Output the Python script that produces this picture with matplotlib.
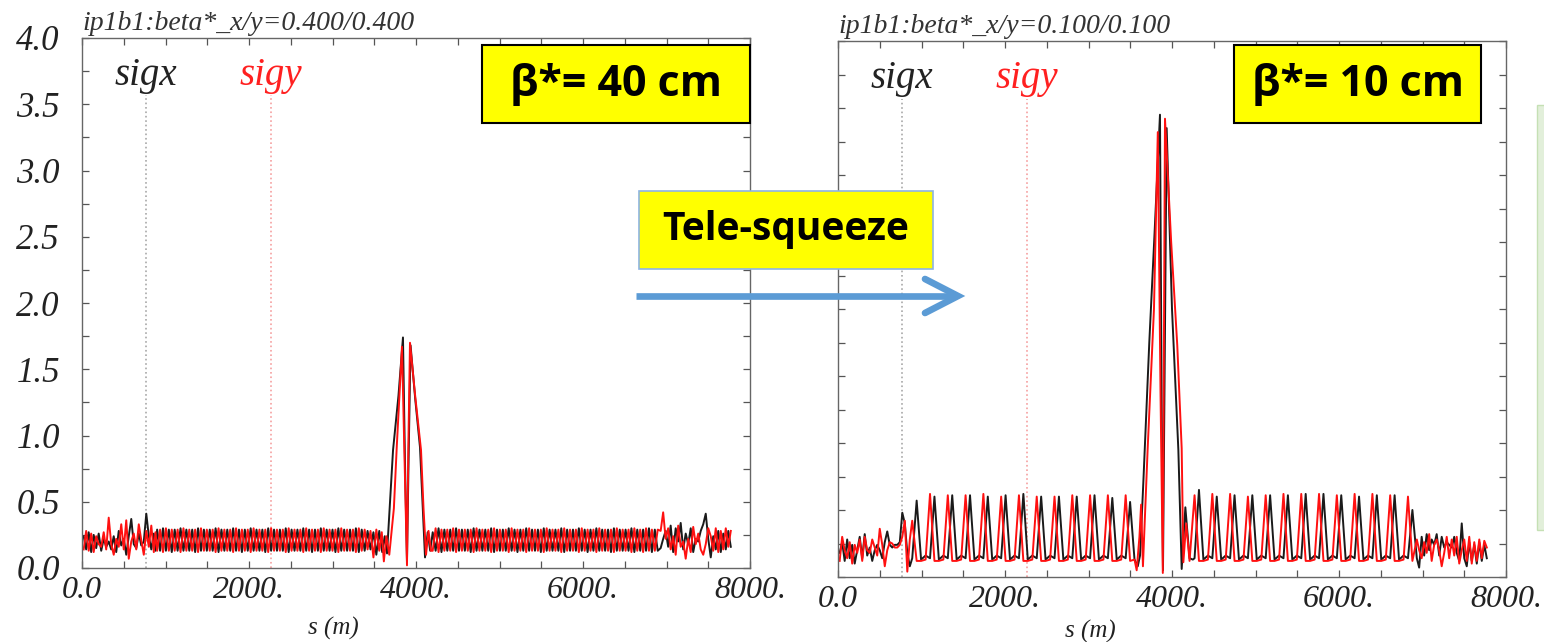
import matplotlib
matplotlib.use("Agg")
import matplotlib.pyplot as plt
from matplotlib.patches import Rectangle
from matplotlib.lines import Line2D

# ---------------- data: beta* = 40 cm (left panel) ----------------
s40_edge1 = [20, 50, 80, 110, 140, 170, 200, 230, 260, 290, 320, 350, 380, 410, 440,
             470, 500, 530, 560, 590, 620, 650, 680, 710, 740, 770, 800, 830, 860, 880]
sigx40_edge1 = [0.24, 0.14, 0.27, 0.12, 0.25, 0.15, 0.26, 0.13, 0.22, 0.16, 0.20, 0.14, 0.24, 0.12, 0.28,
                0.17, 0.22, 0.10, 0.24, 0.37, 0.18, 0.15, 0.26, 0.17, 0.20, 0.41, 0.24, 0.14, 0.26, 0.13]
sigy40_edge1 = [0.14, 0.28, 0.13, 0.26, 0.12, 0.24, 0.18, 0.16, 0.27, 0.14, 0.38, 0.18, 0.10, 0.22, 0.16,
                0.33, 0.14, 0.36, 0.07, 0.20, 0.26, 0.14, 0.33, 0.21, 0.10, 0.28, 0.16, 0.32, 0.12, 0.27]

s40_arc1 = [900, 935, 970, 1005, 1040, 1075, 1110, 1145, 1180, 1215,
            1250, 1285, 1320, 1355, 1390, 1425, 1460, 1495, 1530, 1565,
            1600, 1635, 1670, 1705, 1740, 1775, 1810, 1845, 1880, 1915,
            1950, 1985, 2020, 2055, 2090, 2125, 2160, 2195, 2230, 2265,
            2300, 2335, 2370, 2405, 2440, 2475, 2510, 2545, 2580, 2615,
            2650, 2685, 2720, 2755, 2790, 2825, 2860, 2895, 2930, 2965,
            3000, 3035, 3070, 3105, 3140, 3175, 3210, 3245, 3280, 3315,
            3350, 3385, 3420, 3455, 3490, 3525]
sigx40_arc1 = [0.29, 0.13, 0.30, 0.13, 0.29, 0.12, 0.29, 0.13, 0.30, 0.13,
               0.29, 0.13, 0.29, 0.12, 0.30, 0.13, 0.29, 0.13, 0.29, 0.13,
               0.30, 0.12, 0.29, 0.13, 0.29, 0.13, 0.30, 0.13, 0.29, 0.12,
               0.29, 0.13, 0.30, 0.13, 0.29, 0.13, 0.29, 0.12, 0.30, 0.13,
               0.29, 0.13, 0.29, 0.13, 0.30, 0.12, 0.29, 0.13, 0.29, 0.13,
               0.30, 0.13, 0.29, 0.12, 0.29, 0.13, 0.30, 0.13, 0.29, 0.13,
               0.29, 0.12, 0.30, 0.13, 0.29, 0.13, 0.29, 0.13, 0.30, 0.12,
               0.29, 0.13, 0.28, 0.14, 0.27, 0.10]
sigy40_arc1 = [0.13, 0.29, 0.12, 0.30, 0.13, 0.29, 0.13, 0.29, 0.12, 0.30,
               0.13, 0.29, 0.13, 0.29, 0.12, 0.30, 0.13, 0.29, 0.13, 0.29,
               0.12, 0.30, 0.13, 0.29, 0.13, 0.29, 0.12, 0.30, 0.13, 0.29,
               0.13, 0.29, 0.12, 0.30, 0.13, 0.29, 0.13, 0.29, 0.12, 0.30,
               0.13, 0.29, 0.13, 0.29, 0.12, 0.30, 0.13, 0.29, 0.13, 0.29,
               0.12, 0.30, 0.13, 0.29, 0.13, 0.29, 0.12, 0.30, 0.13, 0.29,
               0.13, 0.29, 0.12, 0.30, 0.13, 0.29, 0.13, 0.29, 0.12, 0.30,
               0.13, 0.29, 0.14, 0.28, 0.08, 0.29]

# interaction region around IP1
s40_irx = [3560, 3595, 3625, 3653, 3725, 3790, 3844, 3868, 3892, 3912, 3935, 3990, 4048, 4108, 4140, 4170]
sigx40_ir = [0.28, 0.12, 0.24, 0.11, 0.89, 1.30, 1.74, 0.80, 0.05, 0.85, 1.68, 1.28, 0.91, 0.08, 0.27, 0.13]
s40_iry = [3560, 3590, 3615, 3645, 3680, 3735, 3770, 3832, 3862, 3892, 3908, 3928, 3990, 4060, 4090, 4120, 4150, 4180]
sigy40_ir = [0.13, 0.27, 0.05, 0.24, 0.10, 0.45, 0.92, 1.67, 0.85, 0.02, 0.90, 1.70, 1.30, 0.89, 0.45, 0.10, 0.28, 0.13]

s40_arc2 = [4200, 4235, 4270, 4305, 4340, 4375, 4410, 4445, 4480, 4515,
            4550, 4585, 4620, 4655, 4690, 4725, 4760, 4795, 4830, 4865,
            4900, 4935, 4970, 5005, 5040, 5075, 5110, 5145, 5180, 5215,
            5250, 5285, 5320, 5355, 5390, 5425, 5460, 5495, 5530, 5565,
            5600, 5635, 5670, 5705, 5740, 5775, 5810, 5845, 5880, 5915,
            5950, 5985, 6020, 6055, 6090, 6125, 6160, 6195, 6230, 6265,
            6300, 6335, 6370, 6405, 6440, 6475, 6510, 6545, 6580, 6615,
            6650, 6685, 6720, 6755, 6790, 6825, 6860, 6895]
sigx40_arc2 = [0.27, 0.13, 0.30, 0.12, 0.29, 0.13, 0.29, 0.13, 0.30, 0.13,
               0.29, 0.13, 0.29, 0.12, 0.30, 0.13, 0.29, 0.13, 0.29, 0.13,
               0.30, 0.12, 0.29, 0.13, 0.29, 0.13, 0.30, 0.13, 0.29, 0.12,
               0.29, 0.13, 0.30, 0.13, 0.29, 0.13, 0.29, 0.12, 0.30, 0.13,
               0.29, 0.13, 0.29, 0.13, 0.30, 0.12, 0.29, 0.13, 0.29, 0.13,
               0.30, 0.13, 0.29, 0.12, 0.29, 0.13, 0.30, 0.13, 0.29, 0.13,
               0.29, 0.12, 0.30, 0.13, 0.29, 0.13, 0.29, 0.13, 0.30, 0.12,
               0.29, 0.13, 0.29, 0.13, 0.30, 0.12, 0.29, 0.13]
sigy40_arc2 = [0.13, 0.30, 0.12, 0.29, 0.13, 0.29, 0.13, 0.30, 0.12, 0.29,
               0.13, 0.29, 0.13, 0.29, 0.12, 0.30, 0.13, 0.29, 0.13, 0.29,
               0.12, 0.30, 0.13, 0.29, 0.13, 0.29, 0.12, 0.30, 0.13, 0.29,
               0.13, 0.29, 0.12, 0.30, 0.13, 0.29, 0.13, 0.29, 0.12, 0.30,
               0.13, 0.29, 0.13, 0.29, 0.12, 0.30, 0.13, 0.29, 0.13, 0.29,
               0.12, 0.30, 0.13, 0.29, 0.13, 0.29, 0.12, 0.30, 0.13, 0.29,
               0.13, 0.29, 0.12, 0.30, 0.13, 0.29, 0.13, 0.29, 0.12, 0.30,
               0.13, 0.29, 0.12, 0.30, 0.13, 0.29, 0.13, 0.29]

s40_edge2 = [6930, 6960, 6990, 7020, 7050, 7080, 7110, 7140, 7170, 7200, 7230, 7260, 7290, 7320, 7350,
             7380, 7410, 7440, 7470, 7500, 7530, 7560, 7590, 7620, 7650, 7680, 7710, 7740, 7770]
sigx40_edge2 = [0.15, 0.22, 0.28, 0.16, 0.32, 0.12, 0.30, 0.20, 0.34, 0.14, 0.26, 0.18, 0.30, 0.12, 0.22,
                0.20, 0.28, 0.33, 0.41, 0.22, 0.08, 0.24, 0.14, 0.28, 0.12, 0.26, 0.14, 0.28, 0.16]
sigy40_edge2 = [0.28, 0.42, 0.22, 0.30, 0.14, 0.24, 0.10, 0.32, 0.16, 0.20, 0.07, 0.22, 0.12, 0.31, 0.18,
                0.26, 0.14, 0.10, 0.18, 0.30, 0.24, 0.13, 0.30, 0.12, 0.28, 0.14, 0.30, 0.16, 0.28]

# ---------------- data: beta* = 10 cm (right panel) ----------------
s10_edge1 = [20, 50, 80, 110, 140, 170, 200, 230, 260, 290, 320, 350, 380, 410, 440,
             470, 500, 530, 560, 590, 620, 650, 680, 710, 740, 770, 800, 830, 860]
sigx10_edge1 = [0.18, 0.26, 0.12, 0.28, 0.14, 0.24, 0.10, 0.20, 0.30, 0.14, 0.32, 0.16, 0.22, 0.12, 0.20,
                0.24, 0.20, 0.14, 0.26, 0.34, 0.24, 0.22, 0.24, 0.24, 0.26, 0.48, 0.40, 0.18, 0.08]
sigy10_edge1 = [0.12, 0.30, 0.20, 0.14, 0.26, 0.10, 0.24, 0.18, 0.28, 0.12, 0.30, 0.20, 0.18, 0.28, 0.22,
                0.16, 0.36, 0.24, 0.08, 0.20, 0.26, 0.25, 0.22, 0.22, 0.24, 0.30, 0.42, 0.04, 0.28]

s10_arc1 = [889, 942, 995, 1049, 1102, 1155, 1208, 1262, 1315, 1368,
            1421, 1475, 1528, 1581, 1634, 1688, 1741, 1794, 1847, 1901,
            1954, 2007, 2060, 2114, 2167, 2220, 2273, 2327, 2380, 2433,
            2486, 2540, 2593, 2646, 2699, 2753, 2806, 2859, 2912, 2966,
            3019, 3072, 3125, 3179, 3232, 3285, 3338, 3392, 3445, 3498]
sigx10_arc1 = [0.14, 0.57, 0.13, 0.16, 0.14, 0.60, 0.13, 0.16, 0.14, 0.61,
               0.13, 0.16, 0.14, 0.61, 0.13, 0.16, 0.14, 0.60, 0.13, 0.16,
               0.14, 0.61, 0.13, 0.16, 0.14, 0.62, 0.13, 0.16, 0.14, 0.60,
               0.13, 0.16, 0.14, 0.60, 0.13, 0.16, 0.14, 0.60, 0.13, 0.16,
               0.14, 0.61, 0.13, 0.16, 0.14, 0.59, 0.13, 0.16, 0.14, 0.56]
sigy10_arc1 = [0.42, 0.12, 0.12, 0.13, 0.62, 0.12, 0.12, 0.13, 0.61, 0.12,
               0.12, 0.13, 0.61, 0.12, 0.12, 0.13, 0.62, 0.12, 0.12, 0.13,
               0.60, 0.12, 0.12, 0.13, 0.61, 0.12, 0.12, 0.13, 0.60, 0.12,
               0.12, 0.13, 0.60, 0.12, 0.12, 0.13, 0.61, 0.12, 0.12, 0.13,
               0.61, 0.12, 0.12, 0.13, 0.61, 0.12, 0.12, 0.13, 0.61, 0.12]

s10_irx = [3551, 3590, 3617, 3657, 3728, 3790, 3856, 3876, 3892, 3910, 3936, 4000, 4076, 4116, 4160, 4210, 4250]
sigx10_ir = [0.13, 0.08, 0.16, 0.71, 1.75, 2.55, 3.45, 1.30, 0.05, 1.40, 3.35, 2.00, 0.95, 0.06, 0.52, 0.14, 0.13]
s10_iry = [3551, 3577, 3610, 3630, 3652, 3708, 3784, 3830, 3862, 3890, 3916, 3990, 4063, 4116, 4136, 4170, 4210]
sigy10_ir = [0.13, 0.05, 0.30, 0.54, 0.08, 0.95, 2.00, 3.32, 1.40, 0.03, 3.42, 2.50, 1.73, 0.96, 0.11, 0.40, 0.12]

s10_arc2 = [4270, 4323, 4376, 4430, 4483, 4536, 4589, 4643, 4696, 4749,
            4802, 4856, 4909, 4962, 5015, 5069, 5122, 5175, 5228, 5282,
            5335, 5388, 5441, 5495, 5548, 5601, 5654, 5708, 5761, 5814,
            5867, 5921, 5974, 6027, 6080, 6134, 6187, 6240, 6293, 6347,
            6400, 6453, 6506, 6560, 6613, 6666, 6719, 6773, 6826, 6879]
sigx10_arc2 = [0.14, 0.65, 0.13, 0.16, 0.14, 0.60, 0.13, 0.16, 0.14, 0.61,
               0.13, 0.16, 0.14, 0.61, 0.13, 0.16, 0.14, 0.61, 0.13, 0.16,
               0.14, 0.61, 0.13, 0.16, 0.14, 0.62, 0.13, 0.16, 0.14, 0.62,
               0.13, 0.16, 0.14, 0.61, 0.13, 0.16, 0.14, 0.60, 0.13, 0.16,
               0.14, 0.61, 0.13, 0.16, 0.14, 0.61, 0.13, 0.16, 0.14, 0.50]
sigy10_arc2 = [0.61, 0.12, 0.12, 0.13, 0.62, 0.12, 0.12, 0.13, 0.62, 0.12,
               0.12, 0.13, 0.60, 0.12, 0.12, 0.13, 0.61, 0.12, 0.12, 0.13,
               0.62, 0.12, 0.12, 0.13, 0.62, 0.12, 0.12, 0.13, 0.62, 0.12,
               0.12, 0.13, 0.61, 0.12, 0.12, 0.13, 0.62, 0.12, 0.12, 0.13,
               0.62, 0.12, 0.12, 0.13, 0.61, 0.12, 0.12, 0.13, 0.60, 0.12]

s10_edge2 = [6932, 6960, 6990, 7020, 7050, 7080, 7110, 7140, 7170, 7200, 7230, 7260, 7290, 7320, 7350,
             7380, 7410, 7440, 7470, 7500, 7530, 7560, 7590, 7620, 7650, 7680, 7710, 7740, 7770]
sigx10_edge2 = [0.14, 0.07, 0.30, 0.16, 0.32, 0.20, 0.28, 0.24, 0.32, 0.16, 0.30, 0.22, 0.26, 0.24, 0.22,
                0.30, 0.18, 0.12, 0.40, 0.14, 0.08, 0.26, 0.12, 0.24, 0.10, 0.26, 0.12, 0.24, 0.14]
sigy10_edge2 = [0.28, 0.20, 0.14, 0.26, 0.18, 0.32, 0.12, 0.24, 0.28, 0.20, 0.08, 0.18, 0.30, 0.14, 0.28,
                0.16, 0.30, 0.10, 0.20, 0.28, 0.12, 0.30, 0.10, 0.26, 0.12, 0.28, 0.14, 0.27, 0.22]

# marker positions of the sigx / sigy labels
s_label_sigx = 765
s_label_sigy = 2260

x_ticklabels = ["0.0", "2000.", "4000.", "6000.", "8000."]
y_ticklabels = ["0.0", "0.5", "1.0", "1.5", "2.0", "2.5", "3.0", "3.5", "4.0"]

W, H = 1544, 642
SERIF = "Liberation Serif"
SANS = ["Open Sans", "DejaVu Sans"]


def fx(x):
    return x / W


def fy(y):
    return 1 - y / H


def setup_axes(ax, title, show_ylabels):
    ax.set_xlim(0, 8000)
    ax.set_ylim(0, 4)
    ax.set_xticks([0, 2000, 4000, 6000, 8000])
    ax.set_xticks([500 * i for i in range(17)], minor=True)
    ax.set_yticks([0.5 * i for i in range(9)])
    ax.set_yticks([0.25 * i for i in range(17)], minor=True)
    ax.set_xticklabels(x_ticklabels, fontfamily=SERIF, fontstyle="italic", fontsize=23, color="#222222")
    if show_ylabels:
        ax.set_yticklabels(y_ticklabels, fontfamily=SERIF, fontstyle="italic", fontsize=25, color="#222222")
    else:
        ax.set_yticklabels([])
    ax.tick_params(which="both", direction="in", length=5, width=0.9, color="#555555",
                   top=True, right=True)
    ax.tick_params(axis="x", pad=6)
    ax.tick_params(axis="y", pad=16)
    for sp in ax.spines.values():
        sp.set_color("#666666")
        sp.set_linewidth(1.0)
    ax.text(0, 1.004, title, transform=ax.transAxes, ha="left", va="bottom",
            fontfamily=SERIF, fontstyle="italic", fontsize=20, color="#333333")
    # labels with their vertical marker lines
    ax.text(s_label_sigx, 3.72, "sigx", ha="center", va="center", fontfamily=SERIF,
            fontstyle="italic", fontsize=28, color="#222222")
    ax.text(s_label_sigy, 3.72, "sigy", ha="center", va="center", fontfamily=SERIF,
            fontstyle="italic", fontsize=28, color="#ff2020")
    ax.plot([s_label_sigx, s_label_sigx], [0, 3.57], ls=":", lw=1.2, color="#a8a8a8")
    ax.plot([s_label_sigy, s_label_sigy], [0, 3.57], ls=":", lw=1.2, color="#f5a0a0")


fig = plt.figure(figsize=(W / 100, H / 100), dpi=100)

ax1 = fig.add_axes([fx(82), fy(568), fx(750) - fx(82), fy(38) - fy(568)])
ax2 = fig.add_axes([fx(838), fy(577), fx(1506) - fx(838), fy(41) - fy(577)])

setup_axes(ax1, "ip1b1:beta*_x/y=0.400/0.400", True)
setup_axes(ax2, "ip1b1:beta*_x/y=0.100/0.100", False)

sx40 = s40_edge1 + s40_arc1 + s40_irx + s40_arc2 + s40_edge2
vx40 = sigx40_edge1 + sigx40_arc1 + sigx40_ir + sigx40_arc2 + sigx40_edge2
sy40 = s40_edge1 + s40_arc1 + s40_iry + s40_arc2 + s40_edge2
vy40 = sigy40_edge1 + sigy40_arc1 + sigy40_ir + sigy40_arc2 + sigy40_edge2
ax1.plot(sx40, vx40, color="#1a1a1a", lw=1.4)
ax1.plot(sy40, vy40, color="#ff1010", lw=1.4)

sx10 = s10_edge1 + s10_arc1 + s10_irx + s10_arc2 + s10_edge2
vx10 = sigx10_edge1 + sigx10_arc1 + sigx10_ir + sigx10_arc2 + sigx10_edge2
sy10 = s10_edge1 + s10_arc1 + s10_iry + s10_arc2 + s10_edge2
vy10 = sigy10_edge1 + sigy10_arc1 + sigy10_ir + sigy10_arc2 + sigy10_edge2
ax2.plot(sx10, vx10, color="#1a1a1a", lw=1.4)
ax2.plot(sy10, vy10, color="#ff1010", lw=1.4)

fig.text(fx(333), fy(628), "s (m)", ha="center", va="center", fontfamily=SERIF,
         fontstyle="italic", fontsize=18, color="#222222")
fig.text(fx(1090), fy(631), "s (m)", ha="center", va="center", fontfamily=SERIF,
         fontstyle="italic", fontsize=18, color="#222222")


def yellow_box(x0, y0, x1, y1, text, edge, lw, size):
    fig.patches.append(Rectangle((fx(x0), fy(y1)), fx(x1) - fx(x0), fy(y0) - fy(y1),
                                 transform=fig.transFigure, facecolor="#ffff00",
                                 edgecolor=edge, linewidth=lw, zorder=5))
    fig.text(fx((x0 + x1) / 2), fy((y0 + y1) / 2), text, ha="center", va="center",
             fontfamily=SANS, fontweight="bold", fontsize=size, color="black", zorder=6)


yellow_box(482, 45, 750, 123, "β*= 40 cm", "black", 1.5, 31)
yellow_box(1234, 45, 1481, 123, "β*= 10 cm", "black", 1.5, 31)
yellow_box(639, 191, 933, 269, "Tele-squeeze", "#8db4e2", 1.2, 28)

# blue arrow
arrow_color = "#5b9bd5"
fig.add_artist(Line2D([fx(636), fx(955)], [fy(296), fy(296)], transform=fig.transFigure,
                      color=arrow_color, lw=4.8, solid_capstyle="butt", zorder=5))
fig.add_artist(Line2D([fx(925), fx(958), fx(925)], [fy(279), fy(296), fy(313)],
                      transform=fig.transFigure, color=arrow_color, lw=4.8,
                      solid_capstyle="round", solid_joinstyle="miter", zorder=5))

# partially visible green panel on the right edge
fig.patches.append(Rectangle((fx(1537), fy(530)), fx(1560) - fx(1537), fy(105) - fy(530),
                             transform=fig.transFigure, facecolor="#e2efda",
                             edgecolor="#c5e0b4", linewidth=1.0, zorder=5))

fig.savefig("out.png", dpi=100)
